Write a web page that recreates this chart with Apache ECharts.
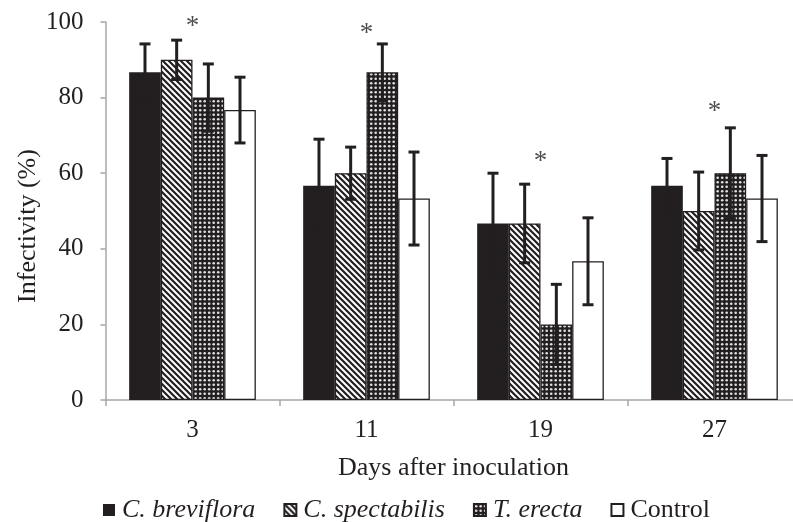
<!DOCTYPE html>
<html>
<head>
<meta charset="utf-8">
<script src="https://cdn.jsdelivr.net/npm/echarts@6/dist/echarts.min.js"></script>
<style>html,body{margin:0;padding:0;background:#fff;}#c{width:793px;height:522px;}</style>
</head>
<body>
<div id="c"></div>
<script>
var categories = ['3', '11', '19', '27'];
var seriesNames = ['C. breviflora', 'C. spectabilis', 'T. erecta', 'Control'];
var breviflora = [86.7, 56.7, 46.7, 56.7];
var brevifloraErr = [7.5, 12.3, 13.3, 7.2];
var spectabilis = [90, 60, 46.7, 50];
var spectabilisErr = [5.2, 6.9, 10.4, 10.3];
var erecta = [80, 86.7, 20, 60];
var erectaErr = [8.9, 7.5, 10.6, 12];
var control = [76.7, 53.3, 36.7, 53.3];
var controlErr = [8.7, 12.3, 11.5, 11.4];
var asteriskValues = [100.2, 98.4, 64.5, 77.8];
var yTicks = [0, 20, 40, 60, 80, 100];

var DARK = '#231f20';
var FONT = '"Liberation Serif", "DejaVu Serif", serif';

function hatchPattern() {
  var s = 6, c = document.createElement('canvas');
  c.width = s; c.height = s;
  var g = c.getContext('2d');
  g.fillStyle = '#fff'; g.fillRect(0, 0, s, s);
  g.strokeStyle = DARK; g.lineWidth = 2.2; g.lineCap = 'square';
  g.beginPath();
  g.moveTo(-1, -1); g.lineTo(s + 1, s + 1);
  g.moveTo(s - 2, -2); g.lineTo(s + 2, 2);
  g.moveTo(-2, s - 2); g.lineTo(2, s + 2);
  g.stroke();
  return c;
}
function dotPattern() {
  var s = 9, c = document.createElement('canvas');
  c.width = s; c.height = s;
  var g = c.getContext('2d');
  g.fillStyle = DARK; g.fillRect(0, 0, s, s);
  g.fillStyle = '#e0e0e0';
  [[2.2, 2.2], [6.7, 2.2], [2.2, 6.7], [6.7, 6.7]].forEach(function (p) {
    g.beginPath(); g.arc(p[0], p[1], 1.3, 0, Math.PI * 2); g.fill();
  });
  return c;
}

var values = [breviflora, spectabilis, erecta, control];
var errs = [brevifloraErr, spectabilisErr, erectaErr, controlErr];
var fills = [
  DARK,
  { image: hatchPattern(), repeat: 'repeat' },
  { image: dotPattern(), repeat: 'repeat' },
  '#ffffff'
];
var BAR_FRAC = 0.182;

var series = values.map(function (v, i) {
  return {
    name: seriesNames[i],
    type: 'bar',
    data: v,
    barWidth: (BAR_FRAC * 100) + '%',
    barGap: '0%',
    itemStyle: { color: fills[i], borderColor: DARK, borderWidth: i === 0 ? 0 : 1.3 },
    emphasis: { disabled: true },
    animation: false
  };
});

var errData = [];
values.forEach(function (v, si) {
  v.forEach(function (m, ci) { errData.push([ci, si, m, errs[si][ci]]); });
});

series.push({
  type: 'custom',
  name: 'err',
  data: errData,
  z: 10,
  clip: false,
  animation: false,
  renderItem: function (params, api) {
    var ci = api.value(0), si = api.value(1), m = api.value(2), e = api.value(3);
    var band = api.size([1, 0])[0];
    var bw = band * BAR_FRAC;
    var c = api.coord([ci, m]);
    var x = c[0] + (si - 1.5) * bw;
    var yTop = api.coord([ci, m + e])[1];
    var yBot = api.coord([ci, m - e])[1];
    var cap = 5.5;
    var st = { stroke: DARK, lineWidth: 3 };
    return {
      type: 'group',
      children: [
        { type: 'line', shape: { x1: x, y1: yTop, x2: x, y2: yBot }, style: st },
        { type: 'line', shape: { x1: x - cap, y1: yTop, x2: x + cap, y2: yTop }, style: st },
        { type: 'line', shape: { x1: x - cap, y1: yBot, x2: x + cap, y2: yBot }, style: st }
      ]
    };
  }
});

series.push({
  type: 'scatter',
  name: 'sig',
  data: asteriskValues.map(function (v, i) { return [i, v]; }),
  symbolSize: 0,
  silent: true,
  clip: false,
  animation: false,
  label: {
    show: true, position: 'inside', formatter: '*',
    fontFamily: FONT, fontSize: 27, color: DARK, offset: [0, 6]
  }
});

var chart = echarts.init(document.getElementById('c'), null, { renderer: 'canvas' });
chart.setOption({
  animation: false,
  backgroundColor: '#fff',
  textStyle: { fontFamily: FONT, color: DARK },
  grid: { left: 105.5, top: 22, width: 696, height: 378, containLabel: false, outerBoundsMode: 'none' },
  legend: {
    data: seriesNames,
    top: 492,
    left: 98,
    icon: 'rect',
    itemWidth: 12,
    itemHeight: 12,
    itemGap: 28,
    selectedMode: false,
    formatter: function (n) { return n === 'Control' ? n : '{i|' + n + '}'; },
    textStyle: {
      fontFamily: FONT, fontSize: 26, color: DARK, padding: [0, 0, 0, 2],
      rich: { i: { fontFamily: FONT, fontSize: 26, fontStyle: 'italic', color: DARK } }
    }
  },
  xAxis: {
    type: 'category',
    data: categories,
    name: 'Days after inoculation',
    nameLocation: 'middle',
    nameGap: 55,
    nameTextStyle: { fontFamily: FONT, fontSize: 26, color: DARK },
    axisLine: { lineStyle: { color: '#a6a6a6', width: 1.5 } },
    axisTick: { show: true, alignWithLabel: false, length: 6, lineStyle: { color: '#a6a6a6', width: 1.5 } },
    axisLabel: { fontFamily: FONT, fontSize: 25, color: DARK, margin: 18 },
    splitLine: { show: false }
  },
  yAxis: {
    type: 'value',
    min: yTicks[0],
    max: yTicks[yTicks.length - 1],
    interval: yTicks[1] - yTicks[0],
    name: 'Infectivity (%)',
    nameLocation: 'middle',
    nameGap: 64,
    nameMoveOverlap: false,
    nameTextStyle: { fontFamily: FONT, fontSize: 26, color: DARK, padding: [0, 30, 0, 0] },
    axisLine: { show: true, lineStyle: { color: '#a6a6a6', width: 1.5 } },
    axisTick: { show: true, length: 5, lineStyle: { color: '#a6a6a6', width: 1.5 } },
    axisLabel: { fontFamily: FONT, fontSize: 25, color: DARK, margin: 22 },
    splitLine: { show: false }
  },
  series: series
});
</script>
</body>
</html>
